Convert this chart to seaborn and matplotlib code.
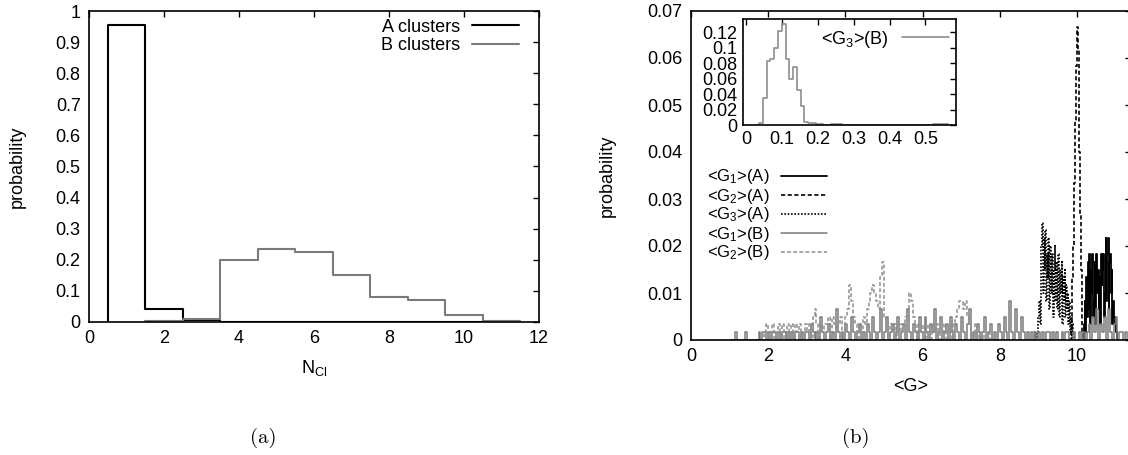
import numpy as np
import matplotlib
matplotlib.use("Agg")
import matplotlib.pyplot as plt
import seaborn as sns
from matplotlib.ticker import FormatStrFormatter, MultipleLocator

# ---------------- data : panel (a) ----------------
N_CL = [1, 2, 3, 4, 5, 6, 7, 8, 9, 10, 11]
P_A_CLUSTERS = [0.955, 0.042, 0.006, 0, 0, 0, 0, 0, 0, 0, 0]
P_B_CLUSTERS = [0.0, 0.003, 0.010, 0.200, 0.235, 0.225, 0.150, 0.079, 0.070, 0.022, 0.004]

# ---------------- data : panel (b) ----------------
COUNT_NORM = 600.0          # histogram counts -> probability
# narrow-bin histograms of the A-cluster descriptors (bin 0.02)
G1A_START, G1A_WIDTH = 10.16, 0.02
G1A_COUNTS = [0, 2, 5, 1, 8, 3, 10, 4, 11, 2, 9, 6, 11, 3, 5, 10, 2, 11, 6, 9, 4, 8, 2, 11,
              7, 9, 11, 3, 6, 13, 5, 11, 13, 4, 10, 11, 6, 9, 2, 5, 3, 2, 2, 1, 0]
G2A_START, G2A_WIDTH = 9.80, 0.02
G2A_COUNTS = [0, 0, 1, 3, 8, 12, 20, 24, 28, 35, 40, 37, 30, 24, 16, 9, 3, 1, 0]
G3A_START, G3A_WIDTH = 8.90, 0.02
G3A_COUNTS = [0, 1, 0, 1, 2, 3, 5, 2, 8, 12, 15, 6, 13, 9, 14, 5, 11, 8, 13, 4, 12, 10, 6,
              11, 3, 9, 12, 5, 10, 4, 8, 11, 3, 9, 6, 10, 2, 8, 5, 9, 3, 7, 4, 6, 2, 5, 1,
              3, 0, 2, 1, 0, 0]
# B-cluster descriptors (bin 0.05, from 1.0)
GB_START, GB_WIDTH = 1.0, 0.05
G1B_COUNTS = ([0, 0, 0, 1, 0, 0, 0, 0, 1, 0, 0, 0, 0, 0, 0] +
              [1, 0, 1, 1, 0, 1, 0, 1, 1, 0, 1, 0, 1, 1, 0, 1, 0, 1, 0, 1, 1, 0, 1, 0, 1] +
              [1, 0, 2, 1, 0, 1, 0, 3, 1, 0, 1, 2, 0, 1, 0, 4, 1, 0, 1, 0, 2, 1, 0, 3, 1, 0, 1, 2, 0, 1] +
              [0, 2, 1, 0, 3, 1, 0, 1, 4, 0, 1, 3, 0, 1, 2, 0, 1, 3, 0, 1, 2, 0, 4, 1, 0, 2, 1, 0, 3, 1] +
              [0, 3, 1, 0, 2, 1, 4, 0, 1, 3, 0, 1, 2, 0, 3, 1, 0, 2, 1, 0, 3, 1, 0, 2, 4, 0, 1, 0, 2, 1] +
              [0, 1, 3, 0, 1, 2, 0, 1, 0, 2, 1, 0, 3, 1, 0, 5, 1, 0, 4, 1, 0, 3, 1, 0, 1, 0, 1, 0, 1, 0] +
              [1, 0, 1, 0, 1, 1, 0, 1, 0, 1, 0, 0, 1, 0, 1, 1, 0, 0, 1, 0] +
              [0, 1, 0, 1, 0, 1, 2, 0, 3, 1, 4, 0, 2, 1, 3, 0, 4, 1, 0, 2, 3, 0, 1, 1, 0, 1])
G2B_COUNTS = ([0] * 17 +
              [0, 1, 2, 0, 1, 2, 0, 1, 2, 0, 2, 0, 1] +
              [2, 0, 2, 0, 2, 1, 2, 0, 1, 2] +
              [1, 2, 0, 3, 4, 2, 0, 2, 1, 2] +
              [2, 3, 0, 3, 2, 1, 2, 3, 0, 1] +
              [3, 4, 7, 5, 3, 2, 0, 2, 1, 3] +
              [2, 4, 5, 6, 7, 6, 5, 4, 8, 10] +
              [3, 2, 0, 2, 1, 2, 0, 2, 1, 2] +
              [2, 3, 4, 6, 5, 3, 2, 0, 2, 1] +
              [2, 0, 2, 1, 0, 2, 1, 2, 0, 1] +
              [1, 2, 0, 1, 2, 0, 2, 3, 4, 5] +
              [5, 4, 5, 3, 2, 0, 1, 2, 0, 1] +
              [0, 1, 0, 0, 1, 0, 0, 0, 0, 0])
# inset: <G3>(B)
G3B_START, G3B_WIDTH = 0.037, 0.0105
G3B_PROB = ([0.003, 0.035, 0.083, 0.085, 0.100, 0.122, 0.131, 0.085, 0.060, 0.075, 0.045, 0.025, 0.004] +
            [0.003, 0.002, 0.001, 0.001, 0, 0] +
            [0.001, 0.001, 0.001] +
            [0] * 24 +
            [0.001, 0.001, 0.001, 0.001])

LABELS_B = [r"<G$_1$>(A)", r"<G$_2$>(A)", r"<G$_3$>(A)", r"<G$_1$>(B)", r"<G$_2$>(B)"]

# ---------------- style ----------------
FS = 13
sns.set_style("white")
plt.rcParams.update({
    "font.family": ["Liberation Sans", "DejaVu Sans"],
    "font.size": FS,
    "mathtext.fontset": "custom",
    "mathtext.rm": "Liberation Sans",
    "mathtext.it": "Liberation Sans:italic",
    "mathtext.bf": "Liberation Sans:bold",
    "axes.edgecolor": "black",
    "axes.linewidth": 1.2,
    "xtick.direction": "in",
    "ytick.direction": "in",
    "xtick.major.size": 4,
    "ytick.major.size": 4,
    "xtick.major.width": 1.0,
    "ytick.major.width": 1.0,
    "xtick.color": "black",
    "ytick.color": "black",
    "text.color": "black",
    "axes.labelcolor": "black",
})

BLACK = "#000000"
GRAY = "#7a7a7a"
LGRAY = "#8e8e8e"


def step_xy(start, width, vals, norm=1.0):
    v = np.asarray(vals, dtype=float) / norm
    edges = start + width * np.arange(len(v) + 1)
    x = np.concatenate([[edges[0]], edges])
    y = np.concatenate([[0.0], v, [0.0]])
    return x, y


def step_line(ax, x, y, **kw):
    sns.lineplot(x=x, y=y, ax=ax, estimator=None, sort=False,
                 drawstyle="steps-post", **kw)
    return ax.lines[-1]


def style_ticks(ax, pad=7):
    ax.tick_params(axis="both", which="major", top=True, right=True,
                   labeltop=False, labelright=False, pad=pad, labelsize=FS)
    for s in ax.spines.values():
        s.set_visible(True)
        s.set_color("black")


fig = plt.figure(figsize=(11.28, 4.55), dpi=100)

# ---------------- panel (a) ----------------
axa = fig.add_axes([89 / 1128, 1 - 322 / 455, 450 / 1128, 311 / 455])
xa, ya = step_xy(N_CL[0] - 0.5, 1.0, P_A_CLUSTERS)
la = step_line(axa, xa, ya, color=BLACK, lw=1.5)
first_b = int(np.nonzero(P_B_CLUSTERS)[0][0])
xb, yb = step_xy(N_CL[first_b] - 0.5, 1.0, P_B_CLUSTERS[first_b:])
lb = step_line(axa, xb, yb, color=GRAY, lw=1.5)
axa.set_xlim(0, 12)
axa.set_ylim(0, 1)
axa.xaxis.set_major_locator(MultipleLocator(2))
axa.yaxis.set_major_locator(MultipleLocator(0.1))
axa.xaxis.set_major_formatter(FormatStrFormatter("%g"))
axa.yaxis.set_major_formatter(FormatStrFormatter("%g"))
style_ticks(axa, pad=6)
axa.set_xlabel(r"N$_{\mathrm{Cl}}$", fontsize=FS)
axa.set_ylabel("probability", fontsize=FS)
axa.xaxis.set_label_coords(0.5, -0.115)
axa.yaxis.set_label_coords(-0.14, 0.5)
axa.legend([la, lb], ["A clusters", "B clusters"], loc="center",
           bbox_to_anchor=(450 / 1128, 1 - 36.5 / 455), bbox_transform=fig.transFigure,
           frameon=False, markerfirst=False, handlelength=2.6, handletextpad=0.7,
           labelspacing=0.08, borderpad=0, fontsize=FS)

# ---------------- panel (b) ----------------
axb = fig.add_axes([691 / 1128, 1 - 340 / 455, 440 / 1128, 329 / 455])
series = [
    (G1A_START, G1A_WIDTH, G1A_COUNTS, dict(color=BLACK, lw=1.3, ls="-")),
    (G2A_START, G2A_WIDTH, G2A_COUNTS, dict(color=BLACK, lw=1.2, ls=(0, (2.5, 1.5)))),
    (G3A_START, G3A_WIDTH, G3A_COUNTS, dict(color=BLACK, lw=1.2, ls=(0, (1, 1)))),
    (GB_START, GB_WIDTH, G1B_COUNTS, dict(color=GRAY, lw=1.1, ls="-")),
    (GB_START, GB_WIDTH, G2B_COUNTS, dict(color=LGRAY, lw=1.1, ls=(0, (2.5, 1.5)))),
]
handles = []
for start, width, counts, kw in series:
    x, y = step_xy(start, width, counts, COUNT_NORM)
    handles.append(step_line(axb, x, y, **kw))
axb.set_xlim(0, 11.4)
axb.set_ylim(0, 0.07)
axb.xaxis.set_major_locator(MultipleLocator(2))
axb.yaxis.set_major_locator(MultipleLocator(0.01))
axb.xaxis.set_major_formatter(FormatStrFormatter("%g"))
axb.yaxis.set_major_formatter(FormatStrFormatter("%g"))
style_ticks(axb, pad=6)
axb.set_xlabel("<G>", fontsize=FS)
axb.set_ylabel("probability", fontsize=FS)
axb.xaxis.set_label_coords(0.5, -0.115)
axb.yaxis.set_label_coords(-0.17, 0.5)
axb.legend(handles, LABELS_B, loc="center",
           bbox_to_anchor=(767 / 1128, 1 - 215 / 455), bbox_transform=fig.transFigure,
           frameon=False, markerfirst=False, handlelength=2.8, handletextpad=0.7,
           labelspacing=0.0, borderpad=0, fontsize=12)

# ---------------- inset ----------------
axi = fig.add_axes([743 / 1128, 1 - 125 / 455, 213 / 1128, 106 / 455])
axi.set_facecolor("white")
xi, yi = step_xy(G3B_START, G3B_WIDTH, G3B_PROB)
li = step_line(axi, xi, yi, color=LGRAY, lw=1.2)
axi.set_xlim(-0.008, 0.585)
axi.set_ylim(0, 0.137)
axi.xaxis.set_major_locator(MultipleLocator(0.1))
axi.yaxis.set_major_locator(MultipleLocator(0.02))
axi.xaxis.set_major_formatter(FormatStrFormatter("%g"))
axi.yaxis.set_major_formatter(FormatStrFormatter("%g"))
style_ticks(axi, pad=4)
axi.set_xlabel("")
axi.set_ylabel("")
axi.legend([li], [r"<G$_3$>(B)"], loc="center",
           bbox_to_anchor=(885 / 1128, 1 - 39 / 455), bbox_transform=fig.transFigure,
           frameon=False, markerfirst=False, handlelength=2.6, handletextpad=0.7,
           borderpad=0, fontsize=FS)

# ---------------- sub-figure captions ----------------
fig.text(263 / 1128, 1 - 438 / 455, "(a)", family="cmr10", fontsize=15,
         ha="center", va="center")
fig.text(856 / 1128, 1 - 438 / 455, "(b)", family="cmr10", fontsize=15,
         ha="center", va="center")

fig.savefig("out.png", dpi=100, facecolor="white")
